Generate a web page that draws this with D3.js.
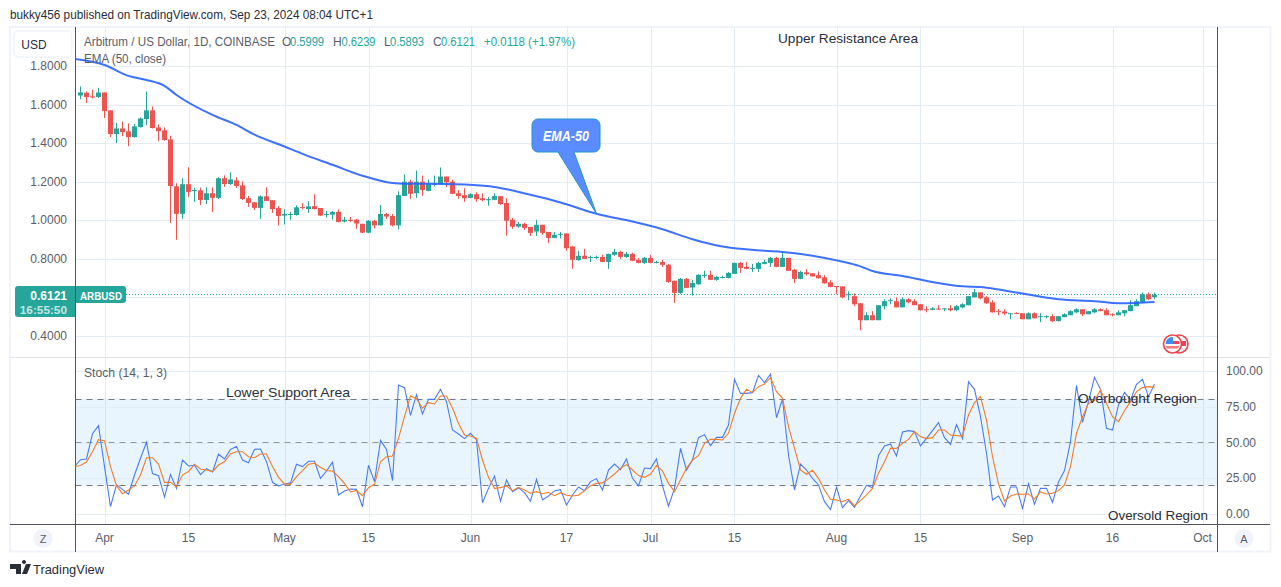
<!DOCTYPE html>
<html><head><meta charset="utf-8">
<style>html,body{margin:0;padding:0;background:#fff;overflow:hidden}svg{display:block}text{font-family:"Liberation Sans",Arial,sans-serif}</style>
<script src="https://cdnjs.cloudflare.com/ajax/libs/d3/7.8.5/d3.min.js"></script>
</head><body><svg id="c" width="1281" height="587"></svg>
<script>
const firstDay = "2024-03-28";
const open = [1.648,1.662,1.643,1.640,1.664,1.571,1.448,1.477,1.462,1.432,
1.484,1.526,1.571,1.482,1.467,1.420,1.176,1.033,1.187,1.152,
1.155,1.105,1.140,1.116,1.218,1.188,1.207,1.181,1.114,1.093,
1.064,1.124,1.104,1.063,1.024,1.029,1.027,1.068,1.058,1.073,
1.063,1.029,1.029,1.043,0.993,1.002,1.002,0.981,0.935,0.997,
0.973,1.032,1.022,0.973,1.126,1.200,1.140,1.200,1.152,1.185,
1.188,1.227,1.200,1.140,1.130,1.116,1.135,1.114,1.106,1.106,
1.125,1.089,1.002,0.967,.981,.965,.941,.976,.939,.908,
.925,.931,.863,.792,.815,.806,.806,.809,.783,.820,
.835,.809,.825,.794,.778,.804,.780,.783,.768,.685,
.622,.695,.650,.667,.711,.716,.690,.700,.700,.721,
.778,.757,.749,.747,.773,.778,.804,.757,.804,.742,
.695,.729,.724,.714,.703,.677,.658,.656,.610,.605,
.568,.480,.506,.480,.553,.579,.579,.547,.589,.579,
.563,.537,.534,.540,.537,.542,.532,.547,.558,.599,
.625,.599,.573,.527,.525,.513,.518,.516,.485,.516,
.497,.496,.501,.475,.496,.506,.521,.537,.511,.521,
.537,.532,.511,.506,.516,.527,.553,.573,.615,.5999];
const high = [1.695,1.669,1.678,1.688,1.664,1.571,1.505,1.512,1.503,1.501,
1.534,1.669,1.591,1.498,1.482,1.439,1.192,1.218,1.275,1.169,
1.169,1.171,1.171,1.223,1.233,1.249,1.223,1.202,1.126,1.093,
1.129,1.171,1.104,1.073,1.056,1.043,1.077,1.089,1.099,1.135,
1.063,1.048,1.048,1.056,1.017,1.017,1.007,.981,1.000,1.000,
1.079,1.038,1.032,1.150,1.238,1.210,1.258,1.232,1.212,1.232,
1.274,1.227,1.210,1.156,1.166,1.140,1.145,1.140,1.120,1.140,
1.125,1.114,1.012,.991,.986,.965,1.002,.976,.939,.939,
.939,.931,.867,.841,.851,.815,.816,.820,.825,.851,
.841,.835,.830,.804,.809,.820,.789,.794,.773,.685,
.700,.700,.690,.721,.737,.737,.711,.711,.731,.780,
.783,.783,.773,.783,.794,.809,.809,.835,.804,.747,
.737,.745,.724,.734,.714,.688,.658,.656,.630,.620,
.568,.521,.527,.558,.589,.594,.599,.599,.594,.589,
.563,.553,.547,.558,.542,.558,.558,.568,.605,.641,
.625,.605,.584,.537,.537,.516,.521,.516,.521,.521,
.516,.506,.511,.501,.516,.532,.542,.537,.527,.542,
.542,.542,.516,.532,.532,.584,.589,.625,.625,.6239];
const low = [1.629,1.609,1.633,1.635,1.531,1.432,1.401,1.437,1.385,1.429,
1.482,1.494,1.477,1.411,1.413,.986,.898,1.007,1.121,1.095,
1.079,1.084,1.043,1.110,1.173,1.183,1.168,1.105,1.069,1.053,
1.007,1.100,1.038,.973,.978,1.003,1.024,1.056,1.038,1.056,
1.022,1.014,1.003,.988,.988,.991,.955,.933,.932,.957,
.973,1.007,.967,.952,1.126,1.111,1.116,1.126,1.150,1.176,
1.186,1.173,1.135,1.111,1.096,1.114,1.096,1.099,1.075,1.104,
1.079,.920,.955,.961,.950,.918,.918,.924,.882,.906,
.905,.841,.747,.789,.799,.783,.797,.782,.747,.815,
.799,.804,.787,.776,.773,.776,.775,.757,.674,.570,
.617,.647,.608,.664,.700,.688,.685,.697,.697,.721,
.726,.745,.730,.731,.771,.757,.755,.757,.737,.674,
.693,.712,.707,.696,.670,.651,.615,.594,.584,.553,
.428,.480,.480,.480,.537,.563,.547,.547,.568,.558,
.530,.521,.532,.535,.527,.527,.527,.542,.558,.599,
.589,.566,.520,.506,.508,.485,.511,.485,.485,.490,
.470,.490,.470,.475,.496,.506,.516,.501,.511,.516,
.527,.506,.501,.506,.501,.527,.553,.568,.584,.5893];
const close = [1.664,1.640,1.638,1.664,1.567,1.448,1.477,1.458,1.432,1.488,
1.529,1.571,1.479,1.463,1.417,1.178,1.033,1.187,1.147,1.157,
1.105,1.140,1.116,1.218,1.188,1.212,1.178,1.110,1.090,1.064,
1.124,1.100,1.058,1.022,1.032,1.032,1.067,1.063,1.072,1.058,
1.024,1.032,1.043,.991,1.002,.996,.983,.935,.997,.973,
1.032,1.019,.973,1.130,1.200,1.137,1.200,1.156,1.191,1.190,
1.227,1.197,1.137,1.126,1.114,1.135,1.109,1.104,1.109,1.125,
1.084,.997,.966,.981,.960,.934,.976,.934,.908,.924,
.929,.854,.794,.815,.799,.809,.809,.783,.825,.835,
.809,.825,.789,.778,.804,.778,.783,.768,.679,.622,
.695,.648,.674,.716,.716,.690,.705,.705,.726,.778,
.752,.747,.752,.778,.783,.804,.757,.804,.737,.695,
.731,.719,.708,.698,.672,.653,.655,.599,.615,.563,
.480,.506,.480,.558,.579,.584,.547,.589,.573,.558,
.532,.534,.542,.537,.542,.532,.553,.563,.605,.625,
.594,.568,.521,.523,.515,.516,.515,.485,.516,.490,
.501,.501,.475,.501,.511,.527,.537,.511,.527,.537,
.527,.506,.508,.521,.532,.558,.579,.615,.589,.6121];
// EMA(50), read at these day offsets from firstDay
const emaDays = [-1,4,8,11,14,16,22,26,29,34,37,42,47,52,54,58,64,69,75,80,86,92,97,102,107,114,117,122,126,128,130,132,137,142,147,150,156,163,169,173,176,179];
const emaValues = [1.838,1.807,1.750,1.729,1.698,1.651,1.547,1.495,1.445,1.383,1.345,1.288,1.231,1.193,1.189,1.190,1.185,1.173,1.132,1.092,1.033,.993,.953,.901,.863,.841,.835,.815,.791,.777,.760,.736,.710,.679,.656,.653,.624,.589,.579,.568,.570,.575];
// Stochastic %K and %D, one value per day starting at the day before firstDay
const stochK = [33.3,38.1,38.6,56.3,61.9,33.3,5.3,20.5,17.4,14.0,27.4,39.1,50.2,28.4,27.0,12.1,27.7,18.1,37.9,33.7,
34.2,27.7,31.9,29.5,41.9,38.6,45.3,47.4,37.9,36.0,45.3,45.6,36.7,22.3,19.8,21.2,21.9,34.9,33.3,37.0,
37.0,25.1,30.2,36.3,13.5,16.3,17.7,17.4,5.3,34.2,22.8,51.6,45.3,23.5,90.2,88.4,69.1,83.5,70.0,80.2,
80.2,87.2,78.6,58.8,56.0,52.8,56.5,51.9,8.1,18.1,26.7,9.1,24.0,15.8,18.4,15.1,9.1,24.4,10.0,12.8,
16.3,17.2,6.5,13.5,19.1,16.5,22.8,24.9,17.0,30.9,35.1,31.2,38.6,25.1,19.8,32.3,31.9,38.6,19.8,5.6,
18.1,46.0,30.9,37.9,53.5,55.6,47.9,53.7,53.7,62.3,94.2,84.4,84.4,84.9,97.0,91.9,97.7,67.4,80.5,41.4,
17.0,35.1,30.9,25.1,20.5,8.8,3.3,18.8,4.7,9.5,4.9,12.8,20.2,18.6,40.9,47.7,49.1,40.7,57.4,58.4,
57.7,47.7,53.0,58.4,64.0,53.5,48.8,62.6,52.8,92.6,87.2,68.1,42.6,10.0,12.8,5.3,19.1,19.1,4.2,21.2,
7.0,18.1,18.1,8.4,22.6,30.5,50.7,90.0,64.2,78.6,95.6,87.2,60.0,58.8,76.3,85.1,79.8,90.7,94.2,82.1,90.7];
const stochD = [33.3,34.0,36.5,43.7,52.1,51.4,33.3,20.0,14.4,17.0,19.8,27.4,39.5,39.5,35.1,22.3,22.3,19.3,27.4,29.8,
34.9,31.6,30.9,29.8,34.4,36.7,42.1,43.7,43.7,40.2,39.5,42.1,42.1,33.3,25.8,21.2,20.9,26.3,30.5,34.9,
35.6,32.8,30.5,30.2,26.3,21.6,15.6,16.7,13.0,18.6,20.9,36.7,40.2,40.7,53.0,68.1,82.6,80.7,74.0,77.9,
77.0,82.6,82.6,74.0,63.5,55.3,54.7,53.0,37.9,25.8,18.1,18.6,19.8,16.5,18.8,17.0,14.7,15.8,14.4,15.3,
13.0,15.1,13.3,12.8,13.3,16.5,19.8,21.6,21.9,24.7,28.1,32.1,34.7,30.9,27.0,25.8,27.9,34.2,30.2,21.6,
15.8,24.0,32.1,37.9,40.9,49.5,52.3,52.3,51.9,56.5,70.5,80.9,87.2,84.9,89.1,90.9,95.3,85.6,80.9,61.2,
46.0,30.9,27.9,30.7,25.1,17.0,10.5,10.0,8.8,10.5,6.0,9.5,13.5,18.1,28.6,36.7,46.0,46.0,49.5,52.3,
57.7,54.2,52.8,53.5,58.8,58.8,55.3,54.9,54.7,69.3,77.9,82.1,65.8,40.2,21.2,9.3,12.8,14.2,14.0,14.2,
10.7,15.6,14.2,14.7,16.5,20.5,33.3,56.5,68.1,77.4,79.3,86.7,77.4,68.1,64.7,72.3,78.6,85.6,88.4,89.1,88.6];
const priceTicks = [1.8,1.6,1.4,1.2,1.0,0.8,0.6,0.4];
const priceLabels = ["1.8000","1.6000","1.4000","1.2000","1.0000","0.8000",null,"0.4000"];
const stochTicks = [100,75,50,25,0];
const stochLabels = ["100.00","75.00","50.00","25.00","0.00"];
const timeTicks = ["2024-04-01","2024-04-15","2024-05-01","2024-05-15","2024-06-01","2024-06-17","2024-07-01","2024-07-15","2024-08-01","2024-08-15","2024-09-01","2024-09-16","2024-10-01"];
const timeLabels = ["Apr","15","May","15","Jun","17","Jul","15","Aug","15","Sep","16","Oct"];
const lastPrice = 0.6121;
const legendKeys = ["O","H","L","C"];
const legendValues = ["0.5999","0.6239","0.5893","0.6121"];

const legendKeyX=[282,333,384,433], legendValX=[290,341.5,390,441];
const GREEN="#26a69a",RED="#ef5350",GRID="#e4edf3",AXIS="#50535e",TXT="#5a5d68",DARK="#2a2e39";
const L=75.5,R=1217.5,TOP=27,SEP=357,BOT=524.5,OUT=552;
const day=d3.utcParse("%Y-%m-%d");
const d0=day(firstDay);
const dayDate=i=>d3.utcDay.offset(d0,i);
const x=d3.scaleUtc().domain([d0,dayDate(179)]).range([80.5,1154.5]);
const xi=i=>x(dayDate(i));
const y=d3.scaleLinear().domain([0.4,1.8]).range([335.6,66.3]);
const ys=d3.scaleLinear().domain([0,100]).range([514.3,371]);
const svg=d3.select("#c");
const defs=svg.append("defs");
defs.append("clipPath").attr("id","pane").append("rect").attr("x",L).attr("y",TOP).attr("width",R-L).attr("height",BOT-TOP);

// frame
svg.append("rect").attr("x",10).attr("y",27).attr("width",1260.5).attr("height",524.5).attr("fill","#fff").attr("stroke","#f0f3fa").attr("stroke-width",2);

// grid
const ticks=timeTicks.map(day);
svg.append("g").selectAll("line").data(ticks).join("line")
 .attr("x1",d=>Math.round(x(d))+.5).attr("x2",d=>Math.round(x(d))+.5).attr("y1",TOP).attr("y2",BOT)
 .attr("stroke",GRID).attr("stroke-width",1);
svg.append("g").selectAll("line").data(priceTicks).join("line")
 .attr("x1",L).attr("x2",R).attr("y1",d=>Math.round(y(d))+.5).attr("y2",d=>Math.round(y(d))+.5).attr("stroke",GRID);

// stoch band
svg.append("rect").attr("x",L).attr("width",R-L).attr("y",ys(80)-1).attr("height",ys(20)-ys(80)+1).attr("fill","#2196f3").attr("fill-opacity",.1);
svg.append("g").selectAll("line").data(stochTicks).join("line")
 .attr("x1",L).attr("x2",R).attr("y1",d=>Math.round(ys(d))+.5).attr("y2",d=>Math.round(ys(d))+.5).attr("stroke",GRID);
svg.append("g").selectAll("line").data([80,50,20]).join("line")
 .attr("x1",L).attr("x2",R).attr("y1",d=>Math.round(ys(d))-.5).attr("y2",d=>Math.round(ys(d))-.5)
 .attr("stroke",d=>d===50?"#8f98a3":"#787b86").attr("stroke-width",1).attr("stroke-dasharray","6 5");

// separators and axes
svg.append("line").attr("x1",10).attr("x2",1270).attr("y1",SEP+.5).attr("y2",SEP+.5).attr("stroke","#e0e3eb");
svg.append("line").attr("x1",10).attr("x2",1270).attr("y1",BOT).attr("y2",BOT).attr("stroke",AXIS);
svg.append("line").attr("x1",L).attr("x2",L).attr("y1",TOP).attr("y2",OUT).attr("stroke",AXIS);
svg.append("line").attr("x1",R).attr("x2",R).attr("y1",TOP).attr("y2",OUT).attr("stroke",AXIS);

// annotation: last-price dotted line
svg.append("line").attr("x1",126).attr("x2",R).attr("y1",Math.round(y(lastPrice))-.5).attr("y2",Math.round(y(lastPrice))-.5)
 .attr("stroke",GREEN).attr("stroke-width",1).attr("stroke-dasharray","1 2");

// candles
const isUp=i=>close[i]>=open[i];
const idx=d3.range(open.length);
const cg=svg.append("g").attr("clip-path","url(#pane)");
cg.append("g").selectAll("line").data(idx).join("line")
 .attr("x1",i=>Math.floor(xi(i))+.5).attr("x2",i=>Math.floor(xi(i))+.5)
 .attr("y1",i=>y(high[i])).attr("y2",i=>y(low[i]))
 .attr("stroke",i=>isUp(i)?GREEN:RED).attr("stroke-width",1);
cg.append("g").selectAll("rect").data(idx).join("rect")
 .attr("x",i=>Math.floor(xi(i))-2).attr("width",5)
 .attr("y",i=>y(Math.max(open[i],close[i])))
 .attr("height",i=>Math.max(1,Math.abs(y(open[i])-y(close[i]))))
 .attr("fill",i=>isUp(i)?GREEN:RED);

// EMA
const emaLine=d3.line().x((d,i)=>xi(emaDays[i])).y(d=>y(d)).curve(d3.curveMonotoneX);
cg.append("path").attr("d",emaLine(emaValues)).attr("fill","none").attr("stroke","#2962ff").attr("stroke-width",2).attr("stroke-opacity",.9);

// Stochastic
const sLine=d3.line().x((d,i)=>xi(i-1)).y(d=>ys(d));
cg.append("path").attr("d",sLine(stochK)).attr("fill","none").attr("stroke","#4b7cf5").attr("stroke-width",1.1);
cg.append("path").attr("d",sLine(stochD)).attr("fill","none").attr("stroke","#f57c25").attr("stroke-width",1.1);

// text helper; len squeezes a text to the measured width of the reference
function T(s,px,py,o={}){const t=svg.append("text").attr("x",px).attr("y",py).attr("font-size",o.fs||12.5)
 .attr("fill",o.c||TXT).attr("text-anchor",o.a||"start").attr("font-weight",o.w||400).attr("font-style",o.i||"normal").text(s);
 if(o.len) t.attr("textLength",o.len).attr("lengthAdjust","spacingAndGlyphs");
 return t;}

// price axis labels
priceTicks.forEach((p,i)=>{ if(priceLabels[i]) T(priceLabels[i],67,y(p)+4,{a:"end",fs:12}); });
stochTicks.forEach((v,i)=>T(stochLabels[i],1226,ys(v)+4,{fs:12}));
ticks.forEach((d,i)=>T(timeLabels[i],x(d),541.5,{a:"middle",fs:12}));

// header + legend
T("bukky456 published on TradingView.com, Sep 23, 2024 08:04 UTC+1",10,19,{c:DARK,fs:12.3,len:363});
T("Arbitrum / US Dollar, 1D, COINBASE",84,46,{fs:12.3,len:191});
legendKeys.forEach((k,i)=>{T(k,legendKeyX[i],46,{fs:12});T(legendValues[i],legendValX[i],46,{c:GREEN,fs:12,len:34});});
T("+0.0118 (+1.97%)",484,46,{c:GREEN,fs:12,len:91});
T("EMA (50, close)",84,63,{fs:12.3,len:82});
T("Stoch (14, 1, 3)",84,377,{fs:12.3,len:83});

// USD button
svg.append("rect").attr("x",14).attr("y",31).attr("width",58).attr("height",26).attr("rx",4).attr("fill","#fff").attr("stroke","#f0f3fa").attr("stroke-width",1.5);
T("USD",34,49,{a:"middle",c:DARK,fs:12});

// price tag
svg.append("path").attr("d","M75.5 286H18a3 3 0 0 0 -3 3V314a3 3 0 0 0 3 3H75.5Z").attr("fill",GREEN);
svg.append("path").attr("d","M75.5 286H123a3 3 0 0 1 3 3V300a3 3 0 0 1 -3 3H75.5Z").attr("fill",GREEN);
svg.append("line").attr("x1",L).attr("x2",L).attr("y1",286).attr("y2",317).attr("stroke",AXIS);
T(lastPrice.toFixed(4),67,299.5,{a:"end",c:"#fff",fs:12,w:700});
T("16:55:50",67,313.5,{a:"end",c:"#c4e6e3",fs:11.8,w:700});
T("ARBUSD",80,299.5,{c:"#fff",fs:11.5,w:700,len:42});

// scale buttons
[[43,"Z"],[1244,"A"]].forEach(([cx,s])=>{
 svg.append("circle").attr("cx",cx).attr("cy",538.5).attr("r",9.5).attr("fill","#f0f3fa");
 T(s,cx,542.5,{a:"middle",fs:11});
});

// drawn text notes
T("Upper Resistance Area",778,43,{c:DARK,fs:13.5,len:140});
T("Lower Support Area",226,397,{c:DARK,fs:13.5,len:124});
T("Overbought Region",1078,403,{c:DARK,fs:13.5,len:119});
T("Oversold Region",1108,520,{c:DARK,fs:13.5,len:100});

// EMA-50 callout anchored on the EMA line
const tipX=xi(86),tipY=y(1.033);
svg.append("path").attr("d",`M538 119H594a6 6 0 0 1 6 6V146a6 6 0 0 1 -6 6H574L${tipX} ${tipY}L558 152H538a6 6 0 0 1 -6 -6V125a6 6 0 0 1 6 -6Z`)
 .attr("fill","#5b8cff").attr("stroke","#2196c9").attr("stroke-width",1);
T("EMA-50",543,140.5,{c:"#fff",fs:14,i:"italic",w:700,len:46});

// flag badge
const fg=svg.append("g");
fg.append("circle").attr("cx",1179).attr("cy",344).attr("r",9).attr("fill","#fff").attr("stroke","#f0434f").attr("stroke-width",1.6);
fg.append("rect").attr("x",1181).attr("y",341).attr("width",5).attr("height",5).attr("fill","#f0434f");
fg.append("circle").attr("cx",1172.5).attr("cy",344).attr("r",9).attr("fill","#fff").attr("stroke","#f0434f").attr("stroke-width",1.6);
defs.append("clipPath").attr("id","fl").append("circle").attr("cx",1172.5).attr("cy",344).attr("r",7);
const f2=fg.append("g").attr("clip-path","url(#fl)");
f2.append("rect").attr("x",1165).attr("y",346).attr("width",15).attr("height",2.6).attr("fill","#f77c80");
f2.append("rect").attr("x",1172).attr("y",341).attr("width",8).attr("height",3).attr("fill","#f0434f");
f2.append("rect").attr("x",1165).attr("y",336).attr("width",8).attr("height",8).attr("fill","#3a8ef5");

// TradingView logo
svg.append("path").attr("fill",DARK).attr("d","M10 564H21V574H16V569H10ZM22 574L26 564H31L27 574ZM24 564a2 2 0 1 1 0.01 0Z");
T("TradingView",33,574,{c:DARK,fs:13,len:71});
</script></body></html>
